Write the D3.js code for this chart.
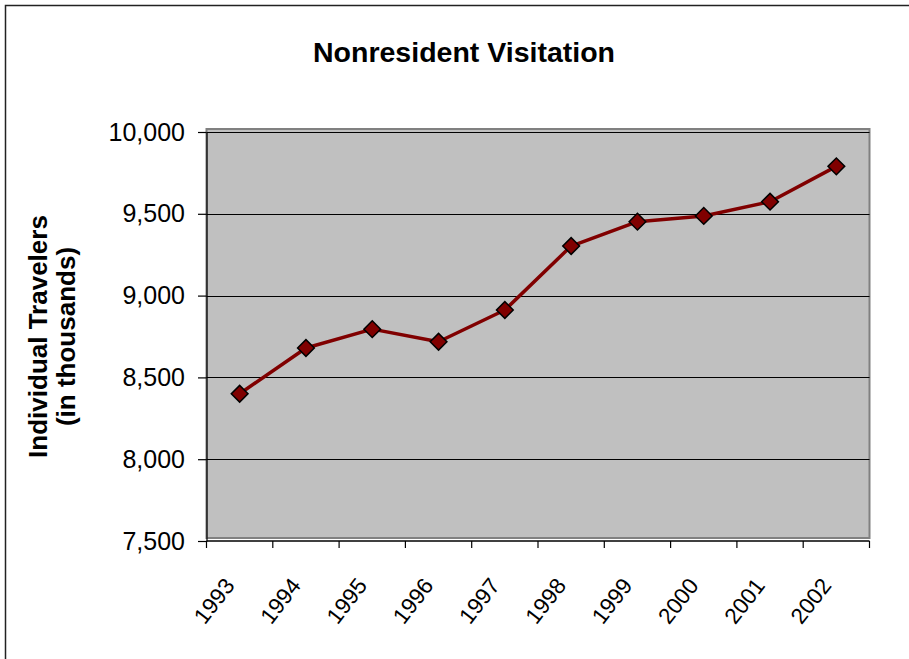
<!DOCTYPE html>
<html>
<head>
<meta charset="utf-8">
<script src="https://cdn.jsdelivr.net/npm/d3@7"></script>
<style>
  body { margin: 0; background: #fff; }
  text { font-family: Arial, 'Liberation Sans', sans-serif; fill: #000; }
  .title { font-size: 28.5px; font-weight: bold; }
  .ytitle { font-size: 26px; font-weight: bold; }
  .axis text { font-size: 25px; }
  .xlabel { font-size: 22.5px; }
</style>
</head>
<body>
<div id="vis"></div>
<script>
// data
var years = ['1993', '1994', '1995', '1996', '1997', '1998', '1999', '2000', '2001', '2002'];
var travelers = [8400, 8680, 8795, 8718, 8912, 9303, 9452, 9487, 9574, 9790];
var yTicks = [7500, 8000, 8500, 9000, 9500, 10000];

var width = 909;
var height = 659;

var margin = {
    left: 206.5,
    right: 39.5,
    top: 132,
    bottom: 118
};

var x0 = margin.left;
var x1 = width - margin.right;
var y0 = margin.top;
var y1 = height - margin.bottom;

var svg = d3.select('#vis')
    .append('svg')
    .attr('width', width)
    .attr('height', height);

// outer chart border (runs off the right/bottom edge like the source)
svg.append('rect')
    .attr('x', 5.5)
    .attr('y', 5.5)
    .attr('width', width + 20)
    .attr('height', height + 20)
    .attr('fill', '#fff')
    .attr('stroke', '#222')
    .attr('stroke-width', 1.5);

var xScale = d3.scaleBand()
    .domain(years)
    .range([x0, x1])
    .padding(0);

var yScale = d3.scaleLinear()
    .domain([7500, 10000])
    .range([y1, y0]);

// plot area
svg.append('rect')
    .attr('x', x0)
    .attr('y', yScale(10000) - 3)
    .attr('width', x1 - x0)
    .attr('height', yScale(7500) - yScale(10000))
    .attr('fill', '#c0c0c0')
    .attr('stroke', '#808080')
    .attr('stroke-width', 2);

// gridlines
svg.append('g')
    .selectAll('line')
    .data(yTicks.filter(function(d) { return d > 7500; }))
    .enter().append('line')
    .attr('x1', x0)
    .attr('x2', x1)
    .attr('y1', function(d) { return Math.round(yScale(d)) + 0.5; })
    .attr('y2', function(d) { return Math.round(yScale(d)) + 0.5; })
    .attr('stroke', '#000')
    .attr('stroke-width', 1);

// y axis
var yAxis = d3.axisLeft(yScale)
    .tickValues(yTicks)
    .tickSize(8.5)
    .tickSizeOuter(0)
    .tickPadding(13)
    .tickFormat(d3.format(','));

svg.append('g')
    .attr('class', 'axis')
    .attr('transform', 'translate(' + x0 + ',0)')
    .call(yAxis)
    .call(function(g) {
        g.selectAll('line, path').attr('stroke', '#000').attr('stroke-width', 1.2);
    });

// x axis line + ticks on band boundaries
var xAxisG = svg.append('g');
xAxisG.append('line')
    .attr('x1', x0)
    .attr('x2', x1)
    .attr('y1', y1)
    .attr('y2', y1)
    .attr('stroke', '#000')
    .attr('stroke-width', 1.5);

var boundaries = years.map(function(d) { return xScale(d); }).concat([xScale.range()[1]]);
xAxisG.selectAll('line.tick')
    .data(boundaries)
    .enter().append('line')
    .attr('class', 'tick')
    .attr('x1', function(d) { return d; })
    .attr('x2', function(d) { return d; })
    .attr('y1', y1)
    .attr('y2', y1 + 7)
    .attr('stroke', '#000')
    .attr('stroke-width', 1.2);

xAxisG.selectAll('text')
    .data(years)
    .enter().append('text')
    .attr('class', 'xlabel')
    .attr('text-anchor', 'end')
    .attr('transform', function(d) {
        var cx = xScale(d) + xScale.bandwidth() / 2;
        return 'translate(' + (cx - 4) + ',' + (y1 + 45) + ') rotate(-52)';
    })
    .text(function(d) { return d; });

// series
var pts = years.map(function(d, i) {
    return { year: d, value: travelers[i] };
});

var line = d3.line()
    .x(function(d) { return xScale(d.year) + xScale.bandwidth() / 2; })
    .y(function(d) { return yScale(d.value); });

svg.append('path')
    .datum(pts)
    .attr('d', line)
    .attr('fill', 'none')
    .attr('stroke', '#800000')
    .attr('stroke-width', 3.5)
    .attr('stroke-linejoin', 'round');

var diamond = d3.symbol().type(d3.symbolSquare).size(140);

svg.append('g')
    .selectAll('path')
    .data(pts)
    .enter().append('path')
    .attr('d', diamond)
    .attr('transform', function(d) {
        return 'translate(' + (xScale(d.year) + xScale.bandwidth() / 2) + ',' + yScale(d.value) + ') rotate(45)';
    })
    .attr('fill', '#800000')
    .attr('stroke', '#000')
    .attr('stroke-width', 1.5);

// titles
svg.append('text')
    .attr('class', 'title')
    .attr('x', 464)
    .attr('y', 62)
    .attr('text-anchor', 'middle')
    .text('Nonresident Visitation');

var midY = (y0 + y1) / 2;
svg.append('text')
    .attr('class', 'ytitle')
    .attr('text-anchor', 'middle')
    .attr('transform', 'translate(47,' + midY + ') rotate(-90)')
    .text('Individual Travelers');

svg.append('text')
    .attr('class', 'ytitle')
    .attr('text-anchor', 'middle')
    .attr('transform', 'translate(75,' + midY + ') rotate(-90)')
    .text('(in thousands)');
</script>
</body>
</html>
